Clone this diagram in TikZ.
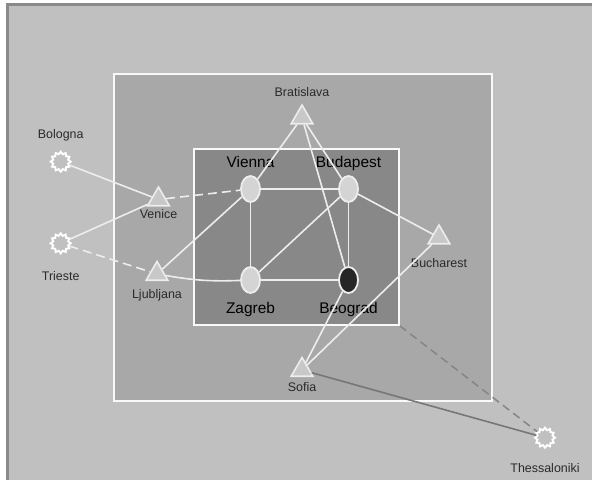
\documentclass[tikz,border=0pt]{standalone}
\usepackage{fontspec}
\setmainfont{Liberation Sans}
\usepackage{tikz}
\usetikzlibrary{shapes.geometric, positioning}
\usepackage{xcolor}
\definecolor{panelgray}{HTML}{C0C0C0}
\definecolor{beltgray}{HTML}{A8A8A8}
\definecolor{coregray}{HTML}{888888}
\definecolor{framegray}{HTML}{8A8A8A}
\definecolor{hubgray}{HTML}{D4D4D4}
\definecolor{citygray}{HTML}{C8C8C8}
\definecolor{linkwhite}{HTML}{EDEDED}
\definecolor{farlink}{HTML}{777777}
\definecolor{labelgray}{HTML}{2A2A2A}
\tikzstyle{region} = [rectangle, draw=white!95!gray, line width=1.8bp, inner sep=0pt]
\tikzstyle{hub} = [ellipse, draw=linkwhite, fill=hubgray, line width=1.8bp, minimum width=19bp, minimum height=26bp, inner sep=0pt]
\tikzstyle{city} = [regular polygon, regular polygon sides=3, draw=linkwhite, fill=citygray, line width=1.6bp, minimum size=25bp, inner sep=0pt]
\tikzstyle{port} = [star, star points=12, star point ratio=1.3, draw=white, line width=1.9bp, minimum size=20bp, inner sep=0pt]
\tikzstyle{link} = [draw=linkwhite, line width=1.6bp]
\tikzstyle{smalllabel} = [inner sep=0pt, text depth=0pt, text height=9bp, text=labelgray, font=\fontsize{12.5}{14}\selectfont]
\tikzstyle{biglabel} = [inner sep=0pt, text depth=0pt, text height=11bp, text=black, font=\fontsize{15.5}{18}\selectfont]

\begin{document}
\begin{tikzpicture}[x=1bp, y=-1bp]
    % Panels
    \useasboundingbox (0,0) rectangle (592,480);
    \fill[white] (0,0) rectangle (592,480);
    \node (panel) [rectangle, fill=panelgray, minimum width=585bp, minimum height=475bp, inner sep=0pt, anchor=north west] at (7.5,5) {};
    \draw[framegray, line width=3bp] (panel.south west) -- (panel.north west) -- (panel.north east);
    \node (belt) [region, fill=beltgray, minimum width=378bp, minimum height=327bp] at (303,237.5) {};
    \node (core) [region, fill=coregray, minimum width=205bp, minimum height=176bp] at (296.5,237) {};

    % Core cities
    \node (vienna) [hub] at (250.5,189) {};
    \node (budapest) [hub] at (348.5,189) {};
    \node (zagreb) [hub] at (250.5,280) {};
    \node (beograd) [hub, fill=black!85] at (348.5,280) {};

    % Belt cities
    \node (bratislava) [city] at (302,117.5) {};
    \node (venice) [city] at (158.5,199.5) {};
    \node (ljubljana) [city] at (157,274) {};
    \node (bucharest) [city] at (439,237.5) {};
    \node (sofia) [city] at (302,370) {};

    % Outside ports
    \node (bologna) [port] at (60.7,161.7) {};
    \node (trieste) [port] at (60.7,243.3) {};
    \node (thessaloniki) [port] at (545,437.7) {};

    % Labels
    \node (vienna-lbl) [biglabel, above=7.3bp of vienna] {Vienna};
    \node (budapest-lbl) [biglabel, above=7.3bp of budapest] {Budapest};
    \node (zagreb-lbl) [biglabel, below=8.7bp of zagreb] {Zagreb};
    \node (beograd-lbl) [biglabel, below=8.7bp of beograd] {Beograd};
    \node (bratislava-lbl) [smalllabel, above=6.5bp of bratislava] {Bratislava};
    \node (venice-lbl) [smalllabel, below=3bp of venice] {Venice};
    \node (ljubljana-lbl) [smalllabel, below=8bp of ljubljana] {Ljubljana};
    \node (bucharest-lbl) [smalllabel, below=13.5bp of bucharest] {Bucharest};
    \node (sofia-lbl) [smalllabel, below=5.7bp of sofia] {Sofia};
    \node (bologna-lbl) [smalllabel, above=11.7bp of bologna] {Bologna};
    \node (trieste-lbl) [smalllabel, below=16bp of trieste] {Trieste};
    \node (thessaloniki-lbl) [smalllabel, below=14bp of thessaloniki] {Thessaloniki};

    % Links
    \draw [link] (bologna) -- (venice);
    \draw [link] (trieste) -- (venice);
    \draw [link, dash pattern=on 9bp off 5bp] (trieste) -- (ljubljana);
    \draw [link, dash pattern=on 9bp off 5bp] (venice) -- (vienna);
    \draw [link] (ljubljana) -- (vienna);
    \draw [link] (ljubljana) to[bend right=6] (zagreb);
    \draw [link] (vienna) -- (budapest);
    \draw [link] (vienna) -- (zagreb);
    \draw [link] (budapest) -- (beograd);
    \draw [link] (zagreb) -- (beograd);
    \draw [link] (zagreb) -- (budapest);
    \draw [link] (bratislava) -- (vienna);
    \draw [link] (bratislava) -- (budapest);
    \draw [link] (bratislava) -- (beograd);
    \draw [link] (budapest) -- (bucharest);
    \draw [link] (bucharest) -- (sofia);
    \draw [link] (beograd) -- (sofia);
    \draw [farlink, line width=1.6bp] (sofia) -- (thessaloniki);
    \draw [farlink!90!white, line width=1.5bp, dash pattern=on 8bp off 5bp] (core.south east) -- (thessaloniki);
\end{tikzpicture}
\end{document}
